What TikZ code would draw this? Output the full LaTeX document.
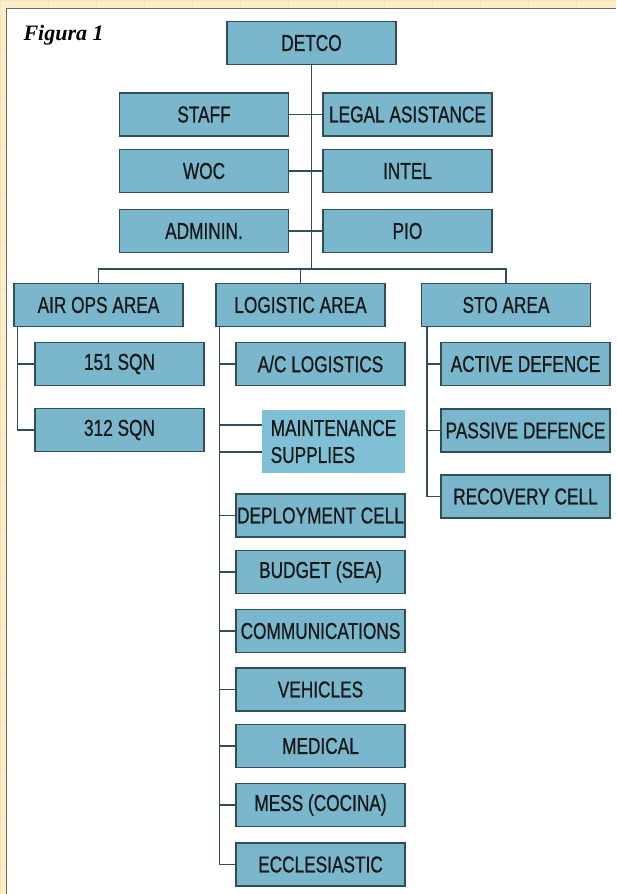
\documentclass[tikz,border=0pt]{standalone}
\usepackage{fontspec}
\setmainfont{Liberation Serif}
\newfontfamily\boxfont[FakeStretch=0.75,FakeBold=0.8]{Liberation Sans}
\usetikzlibrary{positioning}

\definecolor{boxblue}{RGB}{122,182,204}
\definecolor{boxlight}{RGB}{128,192,214}
\definecolor{boxline}{RGB}{48,78,88}
\definecolor{paper}{RGB}{248,240,198}

\tikzset{
  unit/.style={draw=boxline, line width=1.3pt, fill=boxblue, minimum width=169pt,
    minimum height=43pt, inner sep=0pt, text=black!90,
    font=\boxfont\fontsize{23}{23}\selectfont},
  link/.style={boxline, line width=1.3pt},
}

\begin{document}
\begin{tikzpicture}[x=1pt,y=-1pt]

      % paper margin with its faint grid, white sheet on top
      \useasboundingbox (0,0) rectangle (616,894);
      \fill[paper] (0,0) rectangle (616,894);
      \draw[orange!25, line width=0.6pt] (0,0) grid[step=48pt] (616,894);
      \fill[white] (6,8) rectangle (616,894);
      \draw[gray!80!black, line width=1pt] (6,894) -- (6,8) -- (616,8);

      \node[anchor=base west, font=\bfseries\itshape\fontsize{22}{24}\selectfont] (fig) at (20,40) {Figura 1};

      % top of the chart and the six boxes beside the trunk
      \node[unit] (detco) at (311.5,43) {DETCO};
      \node[unit] (staff) at (204,114.5) {STAFF};
      \node[unit] (legal) at (407.5,114.5) {LEGAL ASISTANCE};
      \node[unit] (woc) at (204,171) {WOC};
      \node[unit] (intel) at (407.5,171) {INTEL};
      \node[unit] (admin) at (204,231) {ADMININ.};
      \node[unit] (pio) at (407.5,231) {PIO};

      % the three areas
      \node[unit] (airops) at (98.5,305) {AIR OPS AREA};
      \node[unit] (logistic) at (300.5,305) {LOGISTIC AREA};
      \node[unit] (sto) at (506,305) {STO AREA};

      % air ops column
      \node[unit] (sqn151) at (119.5,364) {151 SQN};
      \node[unit] (sqn312) at (119.5,430) {312 SQN};

      % logistic column
      \node[unit] (aclog) at (320.5,364) {A/C LOGISTICS};
      \node[fill=boxlight, minimum width=143pt, minimum height=63pt, inner sep=0pt, align=left,
        text=black!90, font=\boxfont\fontsize{23}{27}\selectfont] (maint) at (333.5,441.5) {MAINTENANCE\\SUPPLIES};
      \node[unit] (deploy) at (320.5,515.5) {DEPLOYMENT CELL};
      \node[unit] (budget) at (320.5,572) {BUDGET (SEA)};
      \node[unit] (comms) at (320.5,631) {COMMUNICATIONS};
      \node[unit] (vehicles) at (320.5,689.5) {VEHICLES};
      \node[unit] (medical) at (320.5,746) {MEDICAL};
      \node[unit] (mess) at (320.5,805) {MESS (COCINA)};
      \node[unit] (eccl) at (320.5,864.5) {ECCLESIASTIC};

      % sto column
      \node[unit] (active) at (525.5,364) {ACTIVE DEFENCE};
      \node[unit] (passive) at (525.5,430.5) {PASSIVE DEFENCE};
      \node[unit] (recovery) at (525.5,496.5) {RECOVERY CELL};

      % trunk, pairs and the bus over the areas
      \coordinate (bus) at (detco.south |- 0,269);
      \draw[link] (detco.south) -- (bus);
      \draw[link] (staff.east) -- (legal.west);
      \draw[link] (woc.east) -- (intel.west);
      \draw[link] (admin.east) -- (pio.west);
      \draw[link] (airops.north) |- (bus) -| (sto.north);
      \draw[link] (logistic.north) -- (logistic.north |- bus);

      % spines down each area
      \coordinate (airspine) at ([xshift=4pt]airops.south west);
      \draw[link] (airspine) |- (sqn312.west);
      \draw[link] (airspine |- sqn151.west) -- (sqn151.west);

      \coordinate (logspine) at ([xshift=4pt]logistic.south west);
      \draw[link] (logspine) |- (eccl.west);
      \draw[link] (logspine |- aclog.west) -- (aclog.west);
      \draw[link] (logspine |- maint.west) ++(0,-16.5) -- ([yshift=16.5pt]maint.west);
      \draw[link] (logspine |- maint.west) ++(0,10.5) -- ([yshift=-10.5pt]maint.west);
      \draw[link] (logspine |- deploy.west) -- (deploy.west);
      \draw[link] (logspine |- budget.west) -- (budget.west);
      \draw[link] (logspine |- comms.west) -- (comms.west);
      \draw[link] (logspine |- vehicles.west) -- (vehicles.west);
      \draw[link] (logspine |- medical.west) -- (medical.west);
      \draw[link] (logspine |- mess.west) -- (mess.west);

      \coordinate (stospine) at ([xshift=6pt]sto.south west);
      \draw[link] (stospine) |- (recovery.west);
      \draw[link] (stospine |- active.west) -- (active.west);
      \draw[link] (stospine |- passive.west) -- (passive.west);
    \end{tikzpicture}
\end{document}
